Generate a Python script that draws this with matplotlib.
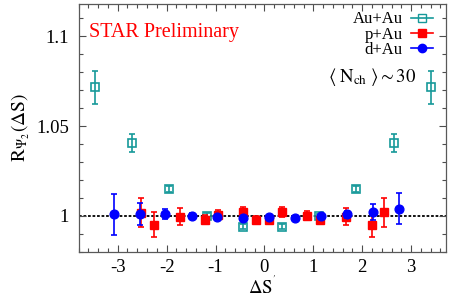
import matplotlib
matplotlib.use("Agg")
import matplotlib.pyplot as plt
from matplotlib.lines import Line2D
from matplotlib.ticker import MultipleLocator


# Au+Au (open teal squares)
au_x = [-3.47, -2.70, -1.955, -1.18, -0.43, 0.355, 1.125, 1.875, 2.64, 3.41]
au_y = [1.0715, 1.0407, 1.015, 1.0002, 0.994, 0.994, 1.000, 1.015, 1.0407, 1.0715]
au_err = [0.0093, 0.005, 0.0018, 0.0012, 0.0015, 0.0015, 0.0012, 0.0018, 0.005, 0.0093]

# p+Au (red filled squares)
pau_x = [-2.515, -2.255, -1.73, -1.22, -0.94, -0.43, -0.17, 0.10, 0.355, 0.88, 1.14, 1.67, 2.195, 2.45]
pau_y = [1.0018, 0.9952, 0.9996, 0.998, 1.0006, 1.0022, 0.998, 0.998, 1.0024, 1.0002, 0.9978, 0.9996, 0.9952, 1.0021]
pau_err = [0.008, 0.007, 0.0048, 0.0025, 0.0025, 0.0028, 0.0022, 0.0022, 0.0028, 0.0025, 0.0025, 0.0048, 0.007, 0.008]

# d+Au (blue filled circles)
dau_x = [-3.07, -2.55, -2.025, -1.49, -0.96, -0.43, 0.096, 0.63, 1.15, 1.685, 2.215, 2.75]
dau_y = [1.001, 1.001, 1.001, 1.0002, 0.9992, 0.999, 0.9996, 0.9987, 1.0002, 1.001, 1.002, 1.0039]
dau_err = [0.0114, 0.0062, 0.0028, 0.0012, 0.001, 0.001, 0.001, 0.001, 0.001, 0.002, 0.0045, 0.0086]

TEAL = "#16999a"
RED = "#ff0000"
BLUE = "#0000ff"

plt.rcParams["font.family"] = ["Liberation Serif", "DejaVu Serif"]
plt.rcParams["mathtext.fontset"] = "stix"


def main():
    fig = plt.figure(figsize=(4.49, 3.02), dpi=100)
    ax = fig.add_axes([0.175, 0.166, 0.818, 0.821])

    ax.axhline(1.0, color="k", lw=1.3, ls=(0, (1.5, 1.0)), zorder=1)

    ax.errorbar(au_x, au_y, yerr=au_err, fmt="s", ms=6, mfc="none", mec=TEAL,
                mew=1.2, ecolor=TEAL, elinewidth=1.2, capsize=2, capthick=1.2, zorder=2)
    ax.errorbar(pau_x, pau_y, yerr=pau_err, fmt="s", ms=6, mfc=RED, mec=RED,
                ecolor=RED, elinewidth=1.2, capsize=2, capthick=1.2, zorder=3)
    ax.errorbar(dau_x, dau_y, yerr=dau_err, fmt="o", ms=6.3, mfc=BLUE, mec=BLUE,
                ecolor=BLUE, elinewidth=1.2, capsize=2, capthick=1.2, zorder=4)

    ax.set_xlim(-3.8, 3.71)
    ax.set_ylim(0.98, 1.118)
    ax.xaxis.set_minor_locator(MultipleLocator(0.2))
    ax.yaxis.set_minor_locator(MultipleLocator(0.01))
    ax.set_yticks([1.0, 1.05, 1.1])
    ax.set_yticklabels(["1", "1.05", "1.1"])
    ax.set_xticks([-3, -2, -1, 0, 1, 2, 3])
    ax.set_xticklabels(["-3", "-2", "-1", "0", "1", "2", "3"])

    ax.tick_params(which="both", direction="in", top=True, right=True,
                   colors="0.3", labelcolor="k", labelsize=13.5)
    ax.tick_params(which="major", length=5, width=0.8)
    ax.tick_params(which="minor", length=3, width=0.8)
    ax.tick_params(axis="x", pad=5)
    ax.tick_params(axis="y", pad=7)
    for spine in ax.spines.values():
        spine.set_color("0.35")
        spine.set_linewidth(0.9)

    ax.set_ylabel(r"$\mathrm{R}_{\Psi_2}(\Delta\mathrm{S})$", fontsize=14, labelpad=3)
    ax.set_xlabel(r"$\Delta\mathrm{S}^{'}$", fontsize=13.5, labelpad=0)

    ax.text(0.029, 0.885, "STAR Preliminary", color=RED, fontsize=14.5,
            transform=ax.transAxes, ha="left", va="center")
    ax.text(0.92, 0.705, r"$\langle\;\mathrm{N_{ch}}\;\rangle \sim 30$", fontsize=13.5,
            transform=ax.transAxes, ha="right", va="center")

    handles = [
        Line2D([], [], color=TEAL, marker="s", mfc="none", mec=TEAL, ms=6, lw=1.2),
        Line2D([], [], color=RED, marker="s", mfc=RED, mec=RED, ms=6, lw=1.2),
        Line2D([], [], color=BLUE, marker="o", mfc=BLUE, mec=BLUE, ms=6, lw=1.2),
    ]
    ax.legend(handles, ["Au+Au", "p+Au", "d+Au"], loc="upper right",
              bbox_to_anchor=(1.005, 1.03), frameon=False, markerfirst=False,
              fontsize=12, handlelength=1.3, handletextpad=0.5, labelspacing=-0.05)

    fig.savefig("out.png", dpi=100)
    plt.close(fig)


if __name__ == "__main__":
    main()
